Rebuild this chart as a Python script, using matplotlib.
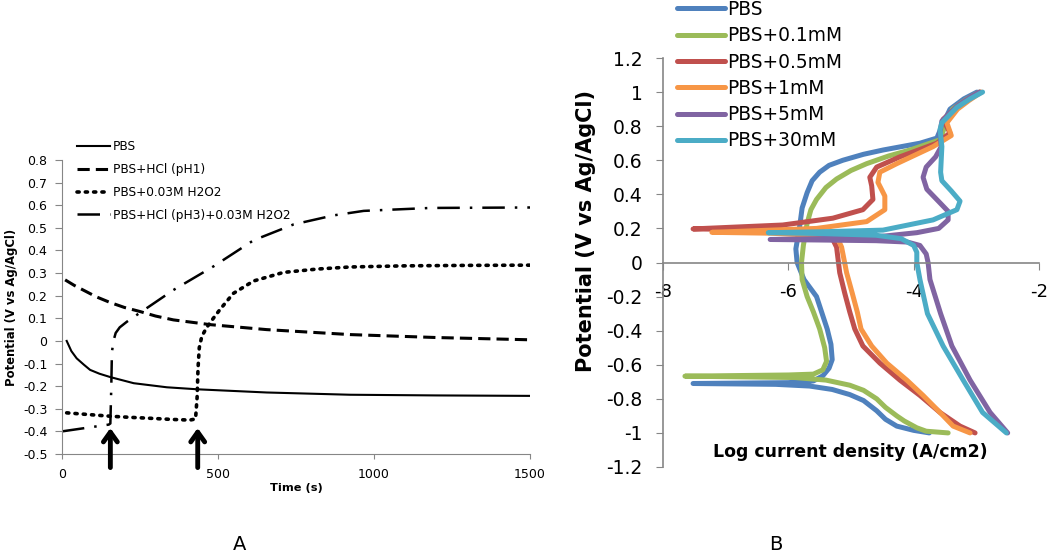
"""Open circuit potential (A) and polarization curves (B)."""

import matplotlib
matplotlib.use("Agg")
import matplotlib.pyplot as plt


# ---- panel A: potential vs time ----
A_NAMES = ["PBS", "PBS+HCl (pH1)", "PBS+0.03M H2O2", "PBS+HCl (pH3)+0.03M H2O2"]

T_PBS = [15, 30, 47, 70, 90, 120, 155, 230, 336, 435, 656, 924, 1200, 1500]
V_PBS = [0.0, -0.045, -0.077, -0.105, -0.128, -0.145, -0.16, -0.187, -0.205,
         -0.214, -0.228, -0.238, -0.241, -0.243]

T_PH1 = [10, 40, 68, 110, 154, 200, 250, 300, 357, 475, 656, 924, 1200, 1500]
V_PH1 = [0.27, 0.245, 0.225, 0.195, 0.17, 0.148, 0.13, 0.11, 0.093, 0.072,
         0.05, 0.028, 0.015, 0.005]

T_H2O2 = [15, 80, 155, 220, 282, 350, 410, 428, 433, 436, 440, 448, 464, 485,
          507, 549, 614, 710, 820, 924, 1100, 1300, 1500]
V_H2O2 = [-0.318, -0.325, -0.333, -0.338, -0.342, -0.347, -0.35, -0.345, -0.25,
          -0.12, -0.03, 0.02, 0.06, 0.10, 0.14, 0.21, 0.265, 0.303, 0.318,
          0.327, 0.332, 0.334, 0.335]

T_PH3 = [0, 50, 100, 150, 155, 158, 160, 165, 172, 185, 208, 261, 357, 486,
         614, 742, 870, 967, 1181, 1500]
V_PH3 = [-0.40, -0.39, -0.38, -0.37, -0.365, -0.2, -0.05, 0.0, 0.035, 0.06,
         0.085, 0.135, 0.225, 0.33, 0.445, 0.515, 0.555, 0.575, 0.588, 0.59]

ARROW_TIMES = [155, 435]
A_XTICKS = [0, 500, 1000, 1500]
A_YTICKS = [-0.5, -0.4, -0.3, -0.2, -0.1, 0, 0.1, 0.2, 0.3, 0.4, 0.5, 0.6, 0.7, 0.8]

# ---- panel B: log current density vs potential ----
B_NAMES = ["PBS", "PBS+0.1mM", "PBS+0.5mM", "PBS+1mM", "PBS+5mM", "PBS+30mM"]
B_COLORS = ["#4F81BD", "#9BBB59", "#C0504D", "#F79646", "#8064A2", "#4BACC6"]

LOGI_PBS = [-3.75, -4.0, -4.27, -4.45, -4.59, -4.8, -5.02, -5.3, -5.66, -6.2, -7.52,
            -6.0, -5.6, -5.45, -5.35, -5.3, -5.32, -5.38, -5.55, -5.75, -5.86, -5.88,
            -5.82, -5.78, -5.7, -5.62, -5.5, -5.35, -5.13, -4.8, -4.49, -3.9, -3.63,
            -3.55, -3.42, -3.2, -2.99]
E_PBS = [-1.0, -0.985, -0.96, -0.92, -0.87, -0.81, -0.775, -0.745, -0.725, -0.715, -0.71,
         -0.705, -0.695, -0.665, -0.62, -0.57, -0.48, -0.39, -0.2, -0.1, 0.0, 0.08,
         0.21, 0.32, 0.41, 0.48, 0.53, 0.57, 0.60, 0.635, 0.66, 0.70, 0.73,
         0.80, 0.90, 0.96, 1.0]

LOGI_01 = [-3.45, -3.8, -3.95, -4.15, -4.27, -4.45, -4.59, -4.8, -5.02, -5.4, -5.9, -7.65,
           -6.0, -5.6, -5.45, -5.39, -5.42, -5.5, -5.6, -5.7, -5.78, -5.79, -5.76,
           -5.7, -5.64, -5.55, -5.4, -5.23, -5.0, -4.75, -4.4, -4.06, -3.58, -3.5,
           -3.38, -3.15, -2.95]
E_01 = [-1.0, -0.99, -0.97, -0.93, -0.90, -0.85, -0.80, -0.75, -0.72, -0.69, -0.675, -0.667,
        -0.66, -0.655, -0.63, -0.58, -0.5, -0.39, -0.29, -0.2, -0.1, 0.0, 0.1,
        0.23, 0.31, 0.37, 0.44, 0.49, 0.54, 0.58, 0.625, 0.66, 0.72, 0.80,
        0.9, 0.96, 1.0]

LOGI_05 = [-3.02, -3.26, -3.58, -3.9, -4.22, -4.54, -4.81, -4.94, -5.02, -5.1, -5.18,
           -5.23, -5.29, -5.6, -6.2, -7.52,
           -6.09, -5.29, -4.81, -4.65, -4.67, -4.7, -4.59, -4.22, -3.63, -3.42,
           -3.53, -3.35, -3.15, -2.94]
E_05 = [-1.0, -0.96, -0.88, -0.78, -0.69, -0.59, -0.49, -0.39, -0.29, -0.18, -0.06,
        0.09, 0.135, 0.18, 0.192, 0.197,
        0.22, 0.26, 0.31, 0.37, 0.45, 0.50, 0.56, 0.62, 0.70, 0.76,
        0.84, 0.90, 0.95, 1.0]

LOGI_1 = [-3.1, -3.37, -3.58, -3.85, -4.11, -4.43, -4.67, -4.84, -4.9, -4.98, -5.07,
          -5.15, -5.2, -5.6, -6.3, -7.22,
          -5.55, -4.75, -4.46, -4.46, -4.57, -4.54, -4.27, -3.69, -3.4,
          -3.47, -3.3, -3.12, -2.92]
E_1 = [-1.0, -0.96, -0.88, -0.78, -0.69, -0.59, -0.49, -0.39, -0.29, -0.18, -0.06,
       0.09, 0.13, 0.16, 0.172, 0.177,
       0.20, 0.24, 0.31, 0.39, 0.47, 0.53, 0.58, 0.68, 0.745,
       0.82, 0.90, 0.95, 1.0]

LOGI_5 = [-2.5, -2.78, -3.1, -3.39, -3.57, -3.74, -3.77, -3.8, -3.9, -4.1, -4.6, -5.5,
          -6.29,
          -5.5, -4.6, -3.95, -3.6, -3.45, -3.45, -3.58, -3.79, -3.85, -3.8, -3.65,
          -3.56, -3.58, -3.55, -3.3, -3.1, -2.95]
E_5 = [-1.0, -0.88, -0.69, -0.49, -0.3, -0.1, 0.0, 0.05, 0.1, 0.12, 0.128, 0.132,
       0.135,
       0.14, 0.15, 0.175, 0.2, 0.25, 0.3, 0.35, 0.43, 0.5, 0.56, 0.62,
       0.68, 0.76, 0.83, 0.92, 0.97, 1.0]

LOGI_30 = [-2.52, -2.9, -3.21, -3.53, -3.78, -3.9, -3.95, -3.95, -4.0, -4.2, -4.6, -5.5,
           -6.32,
           -5.5, -4.49, -3.69, -3.31, -3.26, -3.4, -3.55, -3.57, -3.55, -3.58,
           -3.55, -3.31, -3.1, -2.9]
E_30 = [-1.0, -0.88, -0.69, -0.49, -0.3, -0.1, 0.0, 0.06, 0.1, 0.14, 0.16, 0.17,
        0.175,
        0.18, 0.19, 0.25, 0.31, 0.36, 0.42, 0.48, 0.53, 0.68, 0.78,
        0.82, 0.91, 0.96, 1.0]

B_XTICKS = [-8, -6, -4, -2]
B_YTICKS = [-1.2, -1, -0.8, -0.6, -0.4, -0.2, 0, 0.2, 0.4, 0.6, 0.8, 1, 1.2]

W, H = 1050, 555
GRAY = "#868686"


def fmt(values):
    """Excel style tick text."""
    return [f"{v:g}" for v in values]


def panel_a(fig):
    """Open circuit potential vs time."""
    ax = fig.add_axes([62 / W, 1 - 454 / H, 468 / W, 294 / H])
    ax.plot(T_PBS, V_PBS, color="black", lw=1.5, label=A_NAMES[0])
    ax.plot(T_PH1, V_PH1, color="black", lw=2.2, linestyle=(0, (4, 2)),
            label=A_NAMES[1])
    ax.plot(T_H2O2, V_H2O2, color="black", lw=2.6, linestyle=(0, (0.6, 1.7)),
            dash_capstyle="round", label=A_NAMES[2])
    ax.plot(T_PH3, V_PH3, color="black", lw=1.8, linestyle=(0, (9, 4, 1, 4)),
            label=A_NAMES[3])
    for t in ARROW_TIMES:
        ax.annotate("", xy=(t, -0.385), xytext=(t, -0.56),
                    arrowprops=dict(arrowstyle="->,head_width=0.5,head_length=0.7",
                                    lw=3.5, color="black", shrinkA=0, shrinkB=0),
                    annotation_clip=False)
    ax.set_xlim(0, 1500)
    ax.set_ylim(-0.5, 0.8)
    ax.set_xticks(A_XTICKS)
    ax.set_xticklabels(fmt(A_XTICKS))
    ax.set_yticks(A_YTICKS)
    ax.set_yticklabels(fmt(A_YTICKS))
    for side in ["top", "right"]:
        ax.spines[side].set_visible(False)
    for side in ["left", "bottom"]:
        ax.spines[side].set_color(GRAY)
    ax.tick_params(axis="x", length=3.6, color=GRAY, labelsize=9, pad=6.5)
    ax.tick_params(axis="y", length=5, color=GRAY, labelsize=9, pad=5.5)
    ax.set_xlabel("Time (s)", fontsize=8.2, fontweight="bold", va="center")
    ax.xaxis.set_label_coords((296 - 62) / 468, (454 - 488) / 294)
    ax.set_ylabel("Potential (V vs Ag/AgCl)", fontsize=8.4, fontweight="bold",
                  va="center")
    ax.yaxis.set_label_coords((12 - 62) / 468, 0.5)
    ax.legend(loc="upper left", bbox_to_anchor=(77 / W, 1 - 140 / H),
              bbox_transform=fig.transFigure, frameon=False, fontsize=8.7,
              handlelength=2.7, handletextpad=0.25, labelspacing=0.82,
              borderpad=0, borderaxespad=0)


def panel_b(fig):
    """Polarization curves."""
    ax = fig.add_axes([663 / W, 1 - 467 / H, 376 / W, 409 / H])
    series = [(LOGI_PBS, E_PBS), (LOGI_01, E_01), (LOGI_05, E_05),
              (LOGI_1, E_1), (LOGI_5, E_5), (LOGI_30, E_30)]
    for (x, y), name, c in zip(series, B_NAMES, B_COLORS):
        ax.plot(x, y, color=c, lw=3.6, solid_capstyle="round",
                solid_joinstyle="round", label=name)
    ax.set_xlim(-8, -2)
    ax.set_ylim(-1.2, 1.2)
    ax.set_xticks(B_XTICKS)
    ax.set_xticklabels(fmt(B_XTICKS))
    ax.set_yticks(B_YTICKS)
    ax.set_yticklabels(fmt(B_YTICKS))
    for side in ["top", "right"]:
        ax.spines[side].set_visible(False)
    ax.spines["left"].set_color(GRAY)
    ax.spines["left"].set_linewidth(1.2)
    ax.spines["bottom"].set_position(("data", 0))
    ax.spines["bottom"].set_color(GRAY)
    ax.spines["bottom"].set_linewidth(1.2)
    ax.tick_params(axis="x", length=5, color=GRAY, labelsize=13, pad=10)
    ax.tick_params(axis="y", length=5, color=GRAY, labelsize=13.5, pad=9.5)
    ax.set_xlabel("Log current density (A/cm2)", fontsize=12.5,
                  fontweight="bold", va="center")
    ax.xaxis.set_label_coords((850 - 663) / 376, (467 - 452) / 409)
    ax.set_ylabel("Potential (V vs Ag/AgCl)", fontsize=15, fontweight="bold",
                  va="center")
    ax.yaxis.set_label_coords((586 - 663) / 376, (467 - 231) / 409)
    ax.legend(loc="upper left", bbox_to_anchor=(677 / W, 1.0),
              bbox_transform=fig.transFigure, frameon=False, fontsize=13.4,
              handlelength=2.58, handletextpad=0.12, labelspacing=0.39,
              borderpad=0, borderaxespad=0)


def main() -> None:
    """Entrypoint."""
    plt.rcParams["axes.unicode_minus"] = False
    fig = plt.figure(figsize=(W / 100, H / 100), dpi=100)
    panel_a(fig)
    panel_b(fig)
    fig.text(240 / W, 1 - 544 / H, "A", fontsize=14, ha="center", va="center")
    fig.text(776 / W, 1 - 544 / H, "B", fontsize=14, ha="center", va="center")
    fig.savefig("out.png", dpi=100)


if __name__ == "__main__":
    main()
